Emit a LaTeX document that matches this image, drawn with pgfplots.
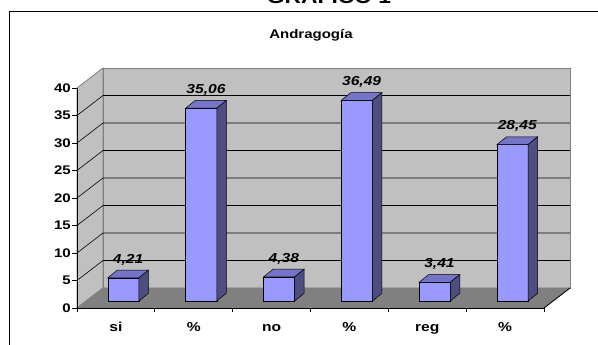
\documentclass[border=0pt]{standalone}
\usepackage{fontspec}
\setmainfont{Liberation Sans}[FakeStretch=1.2]
\usepackage{pgfplots}
\usepackage{pgfplotstable}
\pgfplotsset{compat=1.18}
\definecolor{wall}{RGB}{192,192,192}
\definecolor{floorc}{RGB}{128,128,128}
\definecolor{edge}{RGB}{128,128,128}
\definecolor{barfront}{RGB}{153,153,255}
\definecolor{bartop}{RGB}{117,117,200}
\definecolor{barside}{RGB}{77,77,128}

\pgfplotstableread{
cat v
si 4.21
p1 35.06
no 4.38
p2 36.49
reg 3.41
p3 28.45
}\datatable

\newcommand\threedbar[2]{%
  \pgfmathsetmacro\xa{#1+0.096-0.2}%
  \pgfmathsetmacro\xb{#1+0.096+0.2}%
  \pgfmathsetmacro\xc{\xa+0.122}%
  \pgfmathsetmacro\xd{\xb+0.122}%
  \pgfmathsetmacro\ya{1.27}%
  \pgfmathsetmacro\yb{1.27+#2}%
  \pgfmathsetmacro\yc{\ya+1.4}%
  \pgfmathsetmacro\yd{\yb+1.4}%
  \edef\doit{%
    \noexpand\addplot[draw=black, line width=0.5pt, fill=barfront] coordinates {(\xa,\ya) (\xb,\ya) (\xb,\yb) (\xa,\yb)} -- cycle;
    \noexpand\addplot[draw=black, line width=0.5pt, fill=bartop] coordinates {(\xa,\yb) (\xb,\yb) (\xd,\yd) (\xc,\yd)} -- cycle;
    \noexpand\addplot[draw=black, line width=0.5pt, fill=barside] coordinates {(\xb,\ya) (\xd,\yc) (\xd,\yd) (\xb,\yb)} -- cycle;
  }\doit}

\begin{document}
\begin{tikzpicture}
\useasboundingbox (0,0) rectangle (598pt,345pt);
\draw[line width=1pt] (9pt,-5pt) -- (9pt,333.7pt) -- (610pt,333.7pt);
\node[anchor=base, font=\bfseries\fontsize{19}{19}\selectfont, inner sep=0pt] at (329pt,341pt) {GRAFICO 1};
\node[anchor=base, font=\bfseries\fontsize{12.5}{13}\selectfont, inner sep=0pt] at (311pt,306.7pt) {Andragogía};
\begin{axis}[
  at={(77pt,37pt)}, anchor=south west,
  width=467pt, height=220pt, scale only axis,
  xmin=-0.5, xmax=5.5, ymin=0, ymax=40,
  clip=false,
  axis on top,
  axis lines=left,
  axis line style={-, black, line width=0.8pt},
  xtick={0,...,5},
  xticklabels={si,\%,no,\%,reg,\%},
  minor xtick={-0.5,0.5,1.5,2.5,3.5,4.5,5.5},
  major x tick style={draw=none},
  ytick={0,5,...,40},
  tick align=outside,
  major tick length=4.5pt,
  minor tick length=4.5pt,
  tick style={black, line width=0.8pt},
  tick label style={font=\bfseries\fontsize{12.5}{12.5}\selectfont},
  /pgf/number format/assume math mode=true,
  xticklabel style={anchor=base, yshift=-19pt, font=\bfseries\fontsize{13}{13}\selectfont},
  yticklabel style={inner xsep=1.5pt},
]
% walls and floor
\addplot[draw=edge, line width=0.8pt, fill=wall] coordinates {(-0.5,0) (-0.166,3.636) (-0.166,43.636) (-0.5,40)} -- cycle;
\addplot[draw=edge, line width=0.8pt, fill=wall] coordinates {(-0.166,3.636) (5.834,3.636) (5.834,43.636) (-0.166,43.636)} -- cycle;
\addplot[draw=edge, line width=0.8pt, fill=floorc] coordinates {(-0.5,0) (5.5,0) (5.834,3.636) (-0.166,3.636)} -- cycle;
\addplot[black, line width=0.8pt] coordinates {(5.5,0) (5.834,3.636)};
% gridlines
\addplot[black, line width=0.6pt] coordinates {(-0.5,5) (-0.166,8.636) (5.834,8.636)};
\addplot[black, line width=0.6pt] coordinates {(-0.5,10) (-0.166,13.636) (5.834,13.636)};
\addplot[black, line width=0.6pt] coordinates {(-0.5,15) (-0.166,18.636) (5.834,18.636)};
\addplot[black, line width=0.6pt] coordinates {(-0.5,20) (-0.166,23.636) (5.834,23.636)};
\addplot[black, line width=0.6pt] coordinates {(-0.5,25) (-0.166,28.636) (5.834,28.636)};
\addplot[black, line width=0.6pt] coordinates {(-0.5,30) (-0.166,33.636) (5.834,33.636)};
\addplot[black, line width=0.6pt] coordinates {(-0.5,35) (-0.166,38.636) (5.834,38.636)};
% bars
\pgfplotsinvokeforeach{0,1,2,3,4,5}{%
  \pgfplotstablegetelem{#1}{v}\of\datatable
  \threedbar{#1}{\pgfplotsretval}%
}
% value labels
\addplot[draw=none, mark=none,
  point meta=explicit,
  nodes near coords={\pgfmathprintnumber[fixed,fixed zerofill,precision=2,use comma]{\pgfplotspointmeta}},
  every node near coord/.append style={font=\bfseries\itshape\fontsize{13}{13}\selectfont, anchor=center, inner sep=0pt, text=black},
] table[x expr=\coordindex+0.157, y expr=\thisrow{v}+4.57, meta=v] {\datatable};
\end{axis}
\end{tikzpicture}
\end{document}
